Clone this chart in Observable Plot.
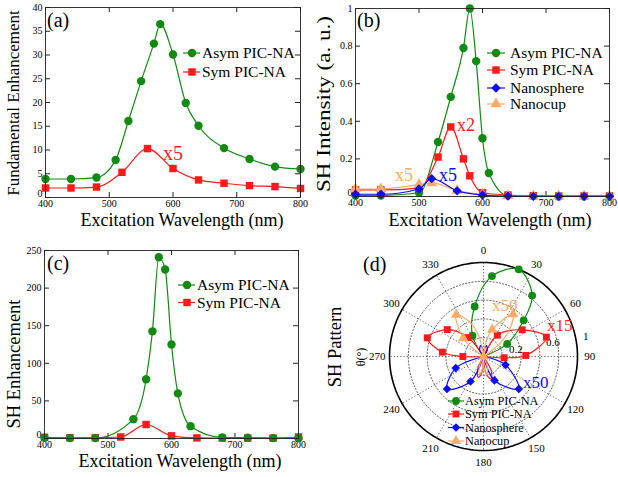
<!DOCTYPE html>
<html><head><meta charset="utf-8">
<script src="https://cdn.jsdelivr.net/npm/d3@7"></script>
<script src="https://cdn.jsdelivr.net/npm/@observablehq/plot@0.6"></script>
<style>
html,body{margin:0;padding:0;background:#fff;}
#root{position:relative;width:618px;height:477px;overflow:hidden;background:#fff;}
.panel{position:absolute;}
</style></head><body><div id="root"></div>
<script>
// ---------------- DATA ----------------
const GREEN = "#108a10", RED = "#ff1a1a", BLUE = "#0a0aff", ORANGE = "#ffaa66";
const seriesNames = ["Asym PIC-NA", "Sym PIC-NA", "Nanosphere", "Nanocup"];

// panel (a) Fundamental Enhancement
const aXTicks = [400, 500, 600, 700, 800];
const aYTicks = [0, 5, 10, 15, 20, 25, 30, 35, 40];
const aAsymWl  = [400, 440, 480, 510, 530, 550, 570, 580, 600, 620, 640, 680, 720, 760, 800];
const aAsymVal = [3.9, 3.9, 4.2, 7.9, 16.1, 24.5, 32.4, 36.5, 30.1, 19.9, 15.1, 10.4, 8.1, 6.5, 6.0];
const aSymWl   = [400, 440, 480, 520, 560, 600, 640, 680, 720, 760, 800];
const aSymVal  = [2.0, 2.0, 2.2, 5.3, 10.3, 6.1, 3.7, 3.0, 2.5, 2.3, 1.9];

// panel (b) SH Intensity
const bXTicks = [400, 500, 600, 700, 800];
const bYTicks = [0, 0.2, 0.4, 0.6, 0.8, 1];
const bAsymWl  = [400, 440, 500, 530, 550, 570, 580, 590, 600, 610, 640, 680, 720, 760, 800];
const bAsymVal = [0.005, 0.005, 0.02, 0.29, 0.53, 0.79, 1.0, 0.72, 0.31, 0.125, 0.005, 0.002, 0, 0, 0];
const bSymWl   = [400, 440, 500, 530, 550, 570, 580, 600, 640, 680, 720, 760, 800];
const bSymVal  = [0.035, 0.035, 0.045, 0.21, 0.37, 0.20, 0.11, 0.02, 0.008, 0.004, 0.003, 0.003, 0.003];
const bSphWl   = [400, 440, 500, 520, 560, 600, 640, 680, 720, 760, 800];
const bSphVal  = [0.012, 0.012, 0.04, 0.095, 0.03, 0.008, 0.002, 0.001, 0.001, 0.001, 0.001];
const bCupWl   = [400, 440, 500, 520, 560, 600, 640, 680, 720, 760, 800];
const bCupVal  = [0.04, 0.04, 0.063, 0.072, 0.032, 0.012, 0.004, 0.002, 0.002, 0.002, 0.002];

// panel (c) SH Enhancement
const cXTicks = [400, 500, 600, 700, 800];
const cYTicks = [0, 50, 100, 150, 200, 250];
const cAsymWl  = [400, 440, 480, 540, 560, 570, 580, 590, 600, 610, 630, 680, 720, 760, 800];
const cAsymVal = [1, 0.5, 0.5, 25.7, 78.8, 142.5, 241, 224.8, 125, 60, 16.4, 1.5, 1, 0.5, 0.3];
const cSymWl   = [400, 440, 480, 520, 560, 600, 640, 680, 720, 760, 800];
const cSymVal  = [1.5, 1, 1, 2, 18.6, 3.5, 0.8, 0.5, 0.5, 0.5, 2];

// panel (d) SH Pattern (theta in degrees, clockwise from top; normalised radius)
const dAngleTicks = [0, 30, 60, 90, 120, 150, 180, 210, 240, 270, 300, 330];
const dRings = [0.2, 0.4, 0.6, 0.8];
const dRingLabels = [0.2, 0.6, 1];
const dAsymMarkers = [[-28, 0.25], [-10, 0.54], [6, 0.86], [22, 1.0], [38.6, 0.83], [48, 0.575], [62, 0.285]];
const dAsymLobes = [
  [[0, 0], [-28, 0.25], [-10, 0.54], [6, 0.86], [22, 1.0], [38.6, 0.83], [48, 0.575], [62, 0.285], [0, 0]]
];
const dSymMarkers = [[-39.3, 0.26], [-53.4, 0.48], [-71.6, 0.63], [-84, 0.44], [-90, 0.22],
                     [33, 0.27], [55.4, 0.50], [72.9, 0.70], [88.6, 0.45], [93.5, 0.22]];
const dSymLobes = [
  [[0, 0], [-39.3, 0.26], [-53.4, 0.48], [-71.6, 0.63], [-84, 0.44], [-90, 0.22], [0, 0]],
  [[0, 0], [33, 0.27], [55.4, 0.50], [72.9, 0.70], [88.6, 0.45], [93.5, 0.22], [0, 0]],
  [[0, 0], [152, 0.18], [162, 0.25], [172, 0.18], [0, 0]],
  [[0, 0], [186, 0.17], [194, 0.23], [204, 0.16], [0, 0]]
];
const dSphMarkers = [[247.3, 0.32], [228.3, 0.52], [207.5, 0.30], [110.7, 0.25], [132.5, 0.51], [155.4, 0.28]];
const dSphLobes = [
  [[0, 0], [247.3, 0.32], [228.3, 0.52], [207.5, 0.30], [0, 0]],
  [[0, 0], [110.7, 0.25], [132.5, 0.51], [155.4, 0.28], [0, 0]],
  [[0, 0], [-30, 0.08], [-15, 0.12], [-3, 0.06], [0, 0]],
  [[0, 0], [3, 0.06], [15, 0.12], [30, 0.08], [0, 0]]
];
const dCupMarkers = [[-48, 0.29], [-33.2, 0.53], [17.9, 0.30], [35, 0.55], [0, 0]];
const dCupLobes = [
  [[0, 0], [-48, 0.29], [-33.2, 0.53], [-22, 0.40], [-12, 0.2], [0, 0]],
  [[0, 0], [10, 0.16], [17.9, 0.30], [35, 0.55], [45, 0.38], [52, 0.2], [0, 0]],
  [[0, 0], [160, 0.12], [170, 0.2], [180, 0.1], [0, 0]],
  [[0, 0], [182, 0.1], [192, 0.2], [202, 0.12], [0, 0]]
];

// ---------------- HELPERS ----------------
const SERIF = "'Liberation Serif','Times New Roman',serif";
const symbolMap = {circle: d3.symbolCircle, square: d3.symbolSquare, diamond2: d3.symbolDiamond2, triangle: d3.symbolTriangle};
const root = document.getElementById("root");

function place(svg, left, top) {
  const div = document.createElement("div");
  div.className = "panel";
  div.style.left = left + "px"; div.style.top = top + "px";
  div.appendChild(svg);
  root.appendChild(div);
}
function addText(svg, o) {
  const t = d3.select(svg).append("text")
    .attr("transform", `translate(${o.x},${o.y})` + (o.rotate ? ` rotate(${o.rotate})` : ""))
    .attr("dy", "0.35em")
    .attr("text-anchor", o.anchor || "middle")
    .attr("font-family", SERIF)
    .attr("font-size", o.size)
    .attr("fill", o.fill || "#000")
    .text(o.text);
  if (o.textLength) t.attr("textLength", o.textLength).attr("lengthAdjust", "spacingAndGlyphs");
}
function addLegend(svg, items, o) {
  const g = d3.select(svg).append("g");
  items.forEach((it, i) => {
    const y = o.ys[i];
    g.append("line").attr("x1", o.x1).attr("x2", o.x2).attr("y1", y).attr("y2", y)
      .attr("stroke", it.color).attr("stroke-width", 1.2);
    g.append("path").attr("d", d3.symbol(symbolMap[it.symbol], Math.PI * o.r * o.r)())
      .attr("transform", `translate(${o.xm},${y})`).attr("fill", it.color);
    g.append("text").attr("x", o.xt).attr("y", y).attr("dy", "0.35em")
      .attr("text-anchor", "start")
      .attr("font-family", SERIF).attr("font-size", o.size).text(it.label);
  });
}

function linePanel(cfg) {
  const {width, height, mL, mR, mT, mB, xTicks, yTicks, xDomain, yDomain, series} = cfg;
  const pw = width - mL - mR, ph = height - mT - mB, tl = 5;
  const marks = [];
  for (const s of series) {
    const rows = s.x.map((x, i) => ({x, y: s.y[i]}));
    marks.push(Plot.line(rows, {x: "x", y: "y", stroke: s.color, strokeWidth: 1.2, curve: "monotone-x"}));
    marks.push(Plot.dot(rows, {x: "x", y: "y", symbol: s.symbol, fill: s.color, r: 4.2}));
  }
  return Plot.plot({
    width, height, marginLeft: mL, marginRight: mR, marginTop: mT, marginBottom: mB,
    style: {fontFamily: SERIF, fontSize: "10px", background: "transparent", overflow: "visible"},
    x: {domain: xDomain, label: null},
    y: {domain: yDomain, label: null},
    marks: [
      Plot.tickX(xTicks, {x: d => d, insetTop: ph - tl, stroke: "#222"}),
      Plot.tickX(xTicks, {x: d => d, insetBottom: ph - tl, stroke: "#222"}),
      Plot.tickY(yTicks, {y: d => d, insetRight: pw - tl, stroke: "#222"}),
      Plot.tickY(yTicks, {y: d => d, insetLeft: pw - tl, stroke: "#222"}),
      Plot.axisX({ticks: xTicks, tickSize: 0, tickPadding: 2.5, label: null, tickFormat: d => String(d), fontFamily: SERIF}),
      Plot.axisY({ticks: yTicks.slice(1), tickSize: 0, tickPadding: 3, label: null, tickFormat: d => String(d), fontFamily: SERIF}),
      Plot.axisY({ticks: yTicks.slice(0, 1), tickSize: 0, tickPadding: 3, dy: -4, label: null, tickFormat: d => String(d), fontFamily: SERIF}),
      ...marks,
      Plot.frame({stroke: "#222", strokeWidth: 0.9})
    ]
  });
}

// ---------------- PANEL (a) ----------------
const svgA = linePanel({
  width: 310, height: 230, mL: 45, mR: 10, mT: 7, mB: 33,
  xTicks: aXTicks, yTicks: aYTicks, xDomain: [400, 800], yDomain: [0, 40],
  series: [
    {x: aAsymWl, y: aAsymVal, color: GREEN, symbol: "circle"},
    {x: aSymWl, y: aSymVal, color: RED, symbol: "square"}
  ]
});
addText(svgA, {x: 13, y: 103, rotate: -90, text: "Fundamental Enhancement", size: 17});
addText(svgA, {x: 182, y: 220, text: "Excitation Wavelength (nm)", size: 18});
addText(svgA, {x: 47, y: 20, text: "(a)", size: 20, anchor: "start"});
addText(svgA, {x: 163, y: 153, text: "x5", size: 20, anchor: "start", fill: RED});
addLegend(svgA, [
  {label: seriesNames[0], color: GREEN, symbol: "circle"},
  {label: seriesNames[1], color: RED, symbol: "square"}
], {ys: [53, 72], x1: 183, x2: 200, xm: 192, xt: 202, r: 4.2, size: 15.5});
place(svgA, 0, 0);

// ---------------- PANEL (b) ----------------
const svgB = linePanel({
  width: 308, height: 230, mL: 45, mR: 9, mT: 8, mB: 34,
  xTicks: bXTicks, yTicks: bYTicks, xDomain: [400, 800], yDomain: [0, 1],
  series: [
    {x: bAsymWl, y: bAsymVal, color: GREEN, symbol: "circle"},
    {x: bSymWl, y: bSymVal, color: RED, symbol: "square"},
    {x: bCupWl, y: bCupVal, color: ORANGE, symbol: "triangle"},
    {x: bSphWl, y: bSphVal, color: BLUE, symbol: "diamond2"}
  ]
});
addText(svgB, {x: 14, y: 104, rotate: -90, text: "SH Intensity (a. u.)", size: 18, textLength: 176});
addText(svgB, {x: 180, y: 220, text: "Excitation Wavelength (nm)", size: 18});
addText(svgB, {x: 47, y: 20, text: "(b)", size: 20, anchor: "start"});
addText(svgB, {x: 147, y: 125, text: "x2", size: 18, anchor: "start", fill: RED});
addText(svgB, {x: 85, y: 175, text: "x5", size: 18, anchor: "start", fill: ORANGE});
addText(svgB, {x: 129, y: 175, text: "x5", size: 18, anchor: "start", fill: BLUE});
addLegend(svgB, [
  {label: seriesNames[0], color: GREEN, symbol: "circle"},
  {label: seriesNames[1], color: RED, symbol: "square"},
  {label: seriesNames[2], color: BLUE, symbol: "diamond2"},
  {label: seriesNames[3], color: ORANGE, symbol: "triangle"}
], {ys: [53, 70, 88, 104], x1: 177, x2: 195, xm: 186, xt: 200, r: 4.2, size: 15.5});
place(svgB, 310, 0);

// ---------------- PANEL (c) ----------------
const svgC = linePanel({
  width: 310, height: 247, mL: 44, mR: 12, mT: 20, mB: 39,
  xTicks: cXTicks, yTicks: cYTicks, xDomain: [400, 800], yDomain: [0, 250],
  series: [
    {x: cSymWl, y: cSymVal, color: RED, symbol: "square"},
    {x: cAsymWl, y: cAsymVal, color: GREEN, symbol: "circle"}
  ]
});
addText(svgC, {x: 14, y: 134, rotate: -90, text: "SH Enhancement", size: 18.5});
addText(svgC, {x: 180, y: 230.5, text: "Excitation Wavelength (nm)", size: 18});
addText(svgC, {x: 47, y: 33, text: "(c)", size: 20, anchor: "start"});
addLegend(svgC, [
  {label: seriesNames[0], color: GREEN, symbol: "circle"},
  {label: seriesNames[1], color: RED, symbol: "square"}
], {ys: [55, 72.5], x1: 178, x2: 195, xm: 187, xt: 197, r: 4.2, size: 15.5});
place(svgC, 0, 230);

// ---------------- PANEL (d) polar ----------------
const toXY = (th, r) => ({x: r * Math.sin(th * Math.PI / 180), y: r * Math.cos(th * Math.PI / 180)});
const lobeRows = (lobes) => lobes.flatMap((pts, k) => pts.map(([t, r]) => ({...toXY(t, r), k})));
const markerRows = (pts) => pts.map(([t, r]) => toXY(t, r));
const circleRows = (rings) => rings.flatMap(r => d3.range(0, 361, 2).map(t => ({...toXY(t, r), ring: r})));
const spokeRows = dAngleTicks.filter(a => a < 180).map(a => ({a1: toXY(a, 1), a2: toXY(a + 180, 1)}));
const CX = 173, CY = 126, R = 94;

const polarSeries = [
  {lobes: dAsymLobes, markers: dAsymMarkers, color: GREEN, symbol: "circle"},
  {lobes: dSymLobes, markers: dSymMarkers, color: RED, symbol: "square"},
  {lobes: dSphLobes, markers: dSphMarkers, color: BLUE, symbol: "diamond2"},
  {lobes: dCupLobes, markers: dCupMarkers, color: ORANGE, symbol: "triangle"}
];
const svgD = Plot.plot({
  width: 308, height: 247, margin: 0,
  style: {fontFamily: SERIF, fontSize: "11px", background: "transparent", overflow: "visible"},
  x: {domain: [-1, 1], range: [CX - R, CX + R], axis: null},
  y: {domain: [-1, 1], range: [CY + R, CY - R], axis: null},
  marks: [
    Plot.line(circleRows(dRings), {x: "x", y: "y", z: "ring", stroke: "#333", strokeWidth: 0.8, strokeDasharray: "1.2,2"}),
    Plot.link(spokeRows, {x1: d => d.a1.x, y1: d => d.a1.y, x2: d => d.a2.x, y2: d => d.a2.y, stroke: "#333", strokeWidth: 0.8, strokeDasharray: "1.2,2"}),
    Plot.line(circleRows([1]), {x: "x", y: "y", stroke: "#000", strokeWidth: 1.6}),
    Plot.text(dAngleTicks, {x: a => toXY(a, 1.13).x, y: a => toXY(a, 1.13).y, text: a => String(a), fontSize: 11, fontFamily: SERIF}),
    Plot.text(dRingLabels, {x: r => toXY(80, r).x, y: r => toXY(80, r).y, text: r => String(r), textAnchor: "start", dx: 7, dy: -4, fontSize: 11, fontFamily: SERIF}),
    ...polarSeries.flatMap(s => [
      Plot.line(lobeRows(s.lobes), {x: "x", y: "y", z: "k", stroke: s.color, strokeWidth: 1.2, curve: "catmull-rom"}),
      Plot.dot(markerRows(s.markers), {x: "x", y: "y", symbol: s.symbol, fill: s.color, r: 3.9})
    ])
  ]
});
addText(svgD, {x: 25, y: 117, rotate: -90, text: "SH Pattern", size: 18.5});
addText(svgD, {x: 51, y: 127, rotate: -90, text: "θ(°)", size: 12});
addText(svgD, {x: 53, y: 34, text: "(d)", size: 20, anchor: "start"});
addText(svgD, {x: 182, y: 75, text: "x50", size: 17, anchor: "start", fill: ORANGE});
addText(svgD, {x: 237, y: 95.5, text: "x15", size: 17, anchor: "start", fill: RED});
addText(svgD, {x: 213, y: 152.5, text: "x50", size: 17, anchor: "start", fill: BLUE});
addLegend(svgD, [
  {label: seriesNames[0], color: GREEN, symbol: "circle"},
  {label: seriesNames[1], color: RED, symbol: "square"},
  {label: seriesNames[2], color: BLUE, symbol: "diamond2"},
  {label: seriesNames[3], color: ORANGE, symbol: "triangle"}
], {ys: [171, 184, 197.5, 211], x1: 138, x2: 154, xm: 146, xt: 155, r: 3.9, size: 12.3});
place(svgD, 310, 230);
</script></body></html>
